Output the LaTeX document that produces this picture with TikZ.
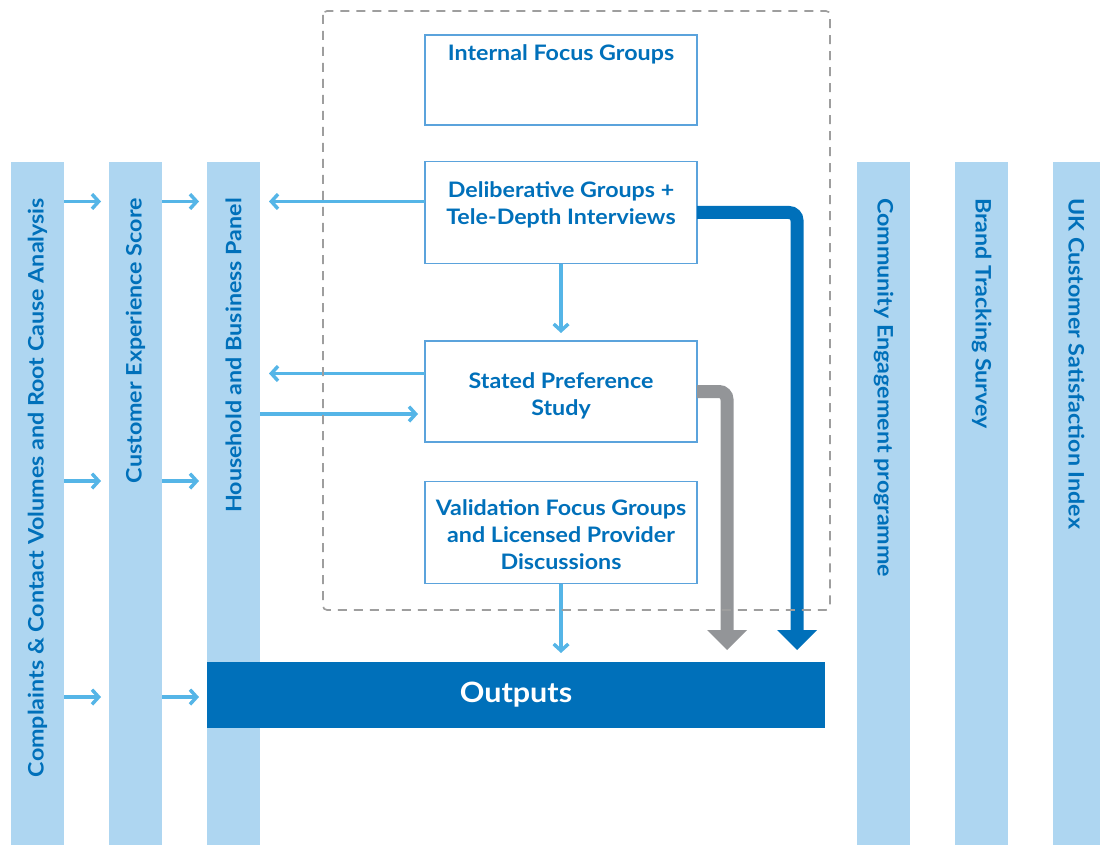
\documentclass[tikz,border=0pt]{standalone}
\usepackage{fontspec}
\setmainfont{Lato}[FakeStretch=1.09]
\usetikzlibrary{arrows.meta}
\definecolor{barfill}{HTML}{AED6F1}
\definecolor{ink}{HTML}{0070BA}
\definecolor{flowblue}{HTML}{55B5E7}
\definecolor{edgeblue}{HTML}{5BA3DC}
\definecolor{pipegray}{HTML}{939598}
\definecolor{framegray}{HTML}{9E9E9E}
\begin{document}
\begin{tikzpicture}[x=0.75pt,y=-0.75pt,
  bar/.style={fill=barfill,inner sep=0pt,outer sep=0pt,minimum width=39.75pt,minimum height=512.25pt},
  bartext/.style={text=ink,font=\bfseries\fontsize{16}{18}\selectfont,inner sep=0pt},
  box/.style={draw=edgeblue,line width=1pt,fill=white,inner sep=0pt,outer sep=0pt,minimum width=204pt},
  boxtext/.style={text=ink,font=\bfseries\fontsize{16}{20.25}\selectfont,align=center,inner sep=0pt},
  flow/.style={draw=flowblue,line width=2.6pt,-{Straight Barb[length=5pt,width=11pt]}},
  pipe/.style={line width=9.75pt,rounded corners=6pt,-{Triangle[length=15pt,width=30pt,line width=0pt]}}]
\useasboundingbox (0,0) rectangle (1103,845);

\node[bar] (cca) at (37.5,503.5) {};
\node[bar] (ces) at (135.5,503.5) {};
\node[bar] (hbp) at (233.5,503.5) {};
\node[bar] (cep) at (883.5,503.5) {};
\node[bar] (bts) at (981.5,503.5) {};
\node[bar,minimum width=35.25pt] (ucsi) at (1076.5,503.5) {};

\node[bartext,rotate=90,anchor=east] (ccatxt) at (37.5,198) {Complaints \& Contact Volumes and Root Cause Analysis};
\node[bartext,rotate=90,anchor=east] (cestxt) at (135.5,198) {Customer Experience Score};
\node[bartext,rotate=90,anchor=east] (hbptxt) at (233.5,198) {Household and Business Panel};
\node[bartext,rotate=-90,anchor=west] (ceptxt) at (883.5,198) {Community Engagement programme};
\node[bartext,rotate=-90,anchor=west] (btstxt) at (981.5,198) {Brand Tracking Survey};
\node[bartext,rotate=-90,anchor=west] (ucsitxt) at (1076.5,198) {UK Customer Satisfaction Index};

\coordinate (rowa) at (0,201.5);
\coordinate (rowb) at (0,481);
\coordinate (rowc) at (0,697);
\coordinate (rowd) at (0,373.5);
\coordinate (rowe) at (0,414);

\node[box,minimum height=67.5pt] (ifg) at (561,80) {};
\node[box,minimum height=76.5pt] (dlb) at (561,212.5) {};
\node[box,minimum height=75.75pt] (spf) at (561,391.5) {};
\node[box,minimum height=76.5pt] (val) at (561,532.5) {};
\node[boxtext] (ifgtxt) at (561,54) {Internal Focus Groups};
\node[boxtext] (dlbtxt) at (561,205) {Deliberative Groups +\\Tele-Depth Interviews};
\node[boxtext] (spftxt) at (561,396) {Stated Preference\\Study};
\node[boxtext] (valtxt) at (561,535) {Validation Focus Groups\\and Licensed Provider\\Discussions};

\node[fill=ink,inner sep=0pt,outer sep=0pt,minimum width=463.5pt,minimum height=49.5pt,
  text=white,font=\bfseries\fontsize{21}{25}\selectfont] (out) at (516,695) {Outputs};

\draw[flow,shorten >=6pt] (cca.east |- rowa) -- (ces.west |- rowa);
\draw[flow,shorten >=6pt] (cca.east |- rowb) -- (ces.west |- rowb);
\draw[flow,shorten >=6pt] (cca.east |- rowc) -- (ces.west |- rowc);
\draw[flow,shorten >=6pt] (ces.east |- rowa) -- (hbp.west |- rowa);
\draw[flow,shorten >=6pt] (ces.east |- rowb) -- (hbp.west |- rowb);
\draw[flow,shorten >=6pt] (ces.east |- rowc) -- (hbp.west |- rowc);
\draw[flow,shorten >=6.75pt] (dlb.west |- rowa) -- (hbp.east |- rowa);
\draw[flow,shorten >=6.75pt] (spf.west |- rowd) -- (hbp.east |- rowd);
\draw[flow,shorten >=5.25pt] (hbp.east |- rowe) -- (spf.west |- rowe);
\draw[flow,shorten >=6pt] (dlb.south) -- (spf.north);
\draw[flow,shorten >=6.75pt] (val.south) -- (val.south |- out.north);

\coordinate (bluetip) at (797,650);
\coordinate (graytip) at (727,650);
\draw[pipe,color=ink] (dlb.east) -| (bluetip);
\draw[pipe,color=pipegray] (spf.east) -| (graytip);

\draw[framegray,line width=1.25pt,dash pattern=on 6.75pt off 5.25pt,rounded corners=3pt] (323,11) rectangle (830,610);
\end{tikzpicture}
\end{document}
